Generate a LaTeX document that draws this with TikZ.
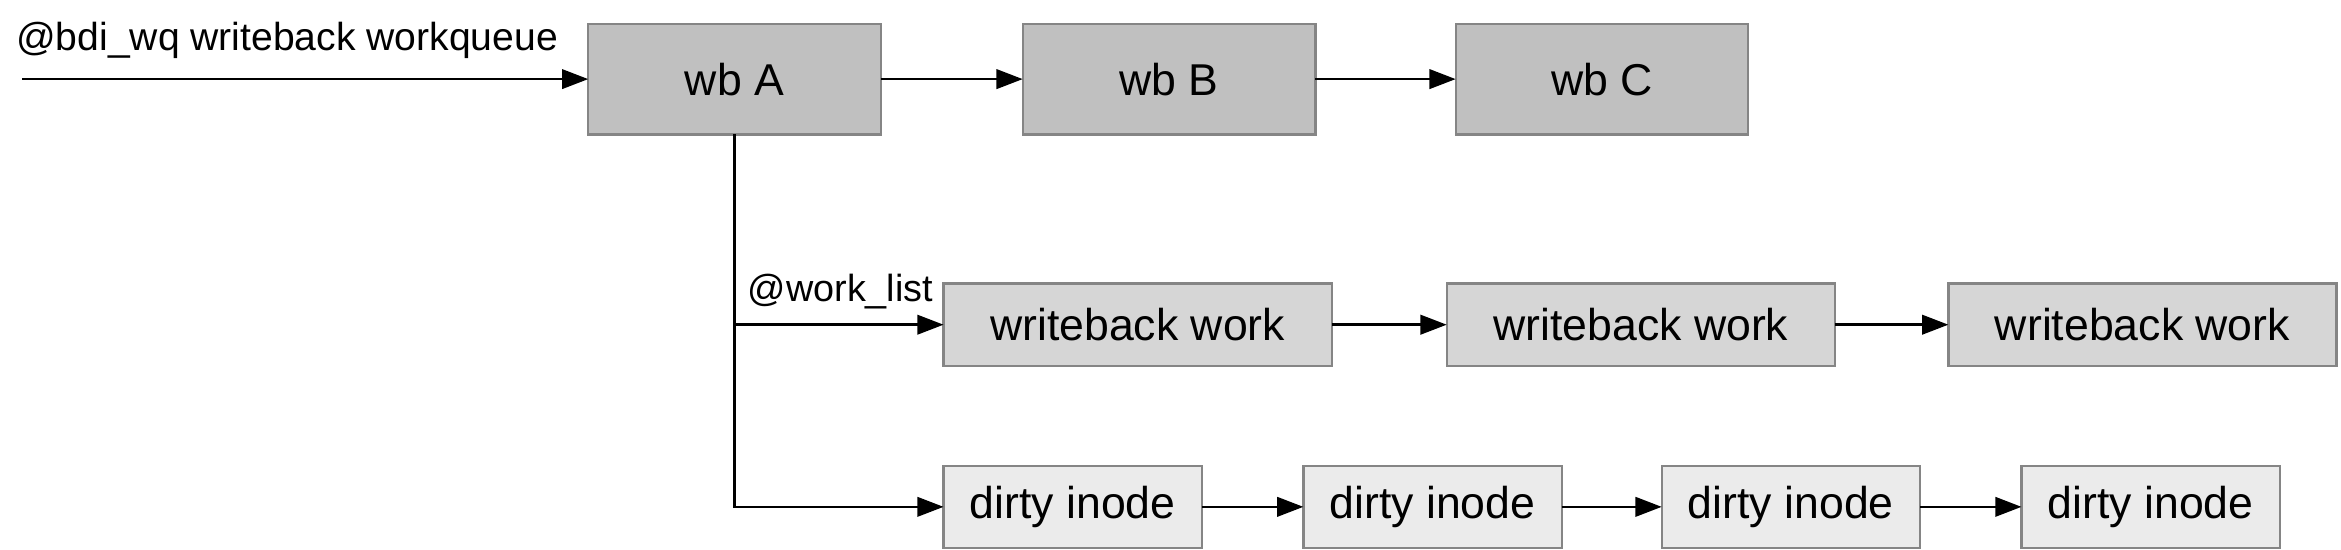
\documentclass[tikz,border=0pt]{standalone}
\usepackage{fontspec}
\setmainfont{Liberation Sans}
\usepackage{tikz}
\usetikzlibrary{arrows.meta,positioning}
\definecolor{wbfill}{HTML}{C0C0C0}
\definecolor{workfill}{HTML}{D6D6D6}
\definecolor{inodefill}{HTML}{EBEBEB}
\definecolor{boxline}{HTML}{858585}
\begin{document}
\begin{tikzpicture}[->,>={Triangle[length=5pt,width=3.7pt]},line width=0.5pt,
	wbbox/.style={draw=boxline,line width=0.45pt,fill=wbfill,rectangle,minimum width=1.96cm,minimum height=0.74cm,inner sep=0pt,outer sep=0pt,font=\fontsize{8.5}{10}\selectfont},
	workbox/.style={draw=boxline,line width=0.45pt,fill=workfill,rectangle,minimum width=2.60cm,minimum height=0.55cm,inner sep=0pt,outer sep=0pt,font=\fontsize{8.5}{10}\selectfont},
	inodebox/.style={draw=boxline,line width=0.45pt,fill=inodefill,rectangle,minimum width=1.73cm,minimum height=0.55cm,inner sep=0pt,outer sep=0pt,font=\fontsize{8.5}{10}\selectfont},
	lbl/.style={inner sep=0pt,font=\fontsize{7.45}{9}\selectfont}]
	\useasboundingbox (0,0) rectangle (15.68,-3.68);

	\node[wbbox]		(wbA)	at (4.92,-0.53)			{wb A};
	\node[wbbox]		(wbB)	[right=0.95cm of wbA]	{wb B};
	\node[wbbox]		(wbC)	[right=0.94cm of wbB]	{wb C};

	\node[workbox]		(work1)	at (7.62,-2.175)		{writeback work};
	\node[workbox]		(work2)	[right=0.77cm of work1]	{writeback work};
	\node[workbox]		(work3)	[right=0.76cm of work2]	{writeback work};

	\node[inodebox]		(inode1)	at (7.185,-3.395)		{dirty inode};
	\node[inodebox]		(inode2)	[right=0.68cm of inode1]	{dirty inode};
	\node[inodebox]		(inode3)	[right=0.67cm of inode2]	{dirty inode};
	\node[inodebox]		(inode4)	[right=0.68cm of inode3]	{dirty inode};

	\coordinate			(wq)	at (0.15,-0.53);
	\coordinate			(fork)	at (wbA.south |- work1.west);

	\node[lbl,anchor=base west]	(wqlabel)	at (0.10,-0.34)	{@bdi\_wq writeback workqueue};
	\node[lbl,anchor=base west,font=\fontsize{7.2}{9}\selectfont]	(worklabel)	at (5.00,-2.02)	{@work\_list};

	\path
		(wq)		edge	(wbA)
		(wbA)		edge	(wbB)
		(wbB)		edge	(wbC)
		(fork)		edge	(work1)
		(work1)		edge	(work2)
		(work2)		edge	(work3)
		(inode1)	edge	(inode2)
		(inode2)	edge	(inode3)
		(inode3)	edge	(inode4)
	;
	\draw (wbA.south) |- (inode1);
\end{tikzpicture}
\end{document}
